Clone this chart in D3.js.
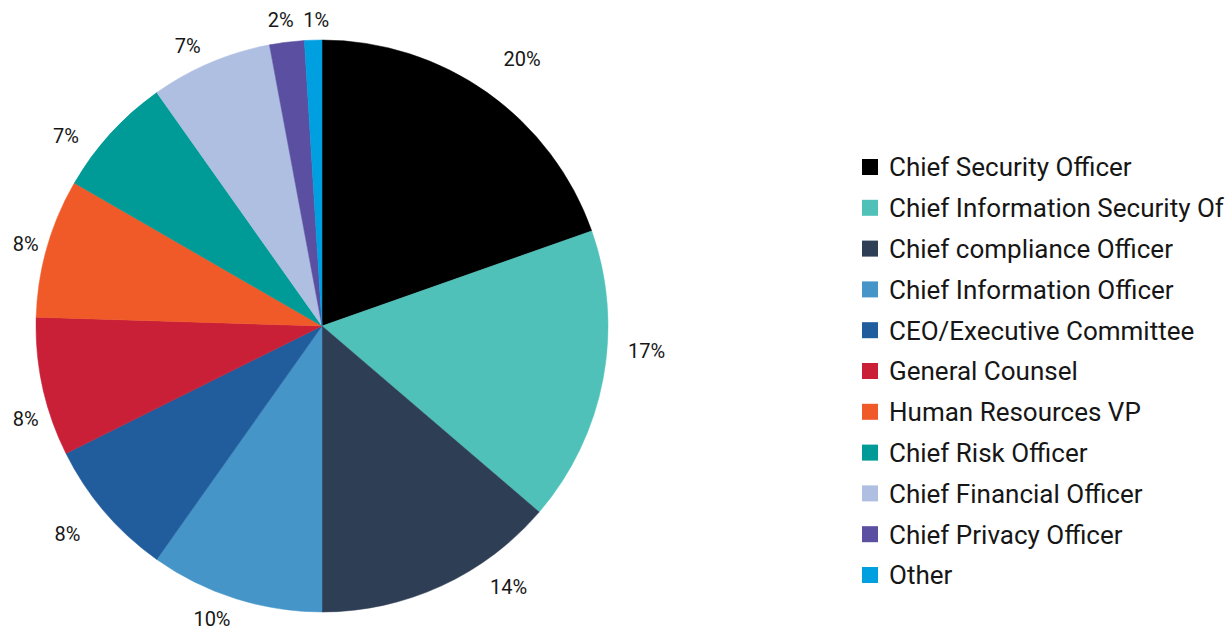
<!DOCTYPE html>
<html>
<head>
<meta charset="utf-8">
<script src="https://cdn.jsdelivr.net/npm/d3@7"></script>
<style>
  html, body { margin: 0; padding: 0; background: #fff; }
  svg { display: block; }
  text { font-family: Roboto, "Noto Sans", sans-serif; fill: #161616; }
</style>
</head>
<body>
<svg id="chart" width="1228" height="630"></svg>
<script>
// Who owns the function — share of respondents by role
const roles = [
  "Chief Security Officer",
  "Chief Information Security Officer",
  "Chief compliance Officer",
  "Chief Information Officer",
  "CEO/Executive Committee",
  "General Counsel",
  "Human Resources VP",
  "Chief Risk Officer",
  "Chief Financial Officer",
  "Chief Privacy Officer",
  "Other"
];
const shares = [20, 17, 14, 10, 8, 8, 8, 7, 7, 2, 1];
const colors = [
  "#000000", "#4fc1b9", "#2e3e55", "#4595c8", "#215d9c",
  "#c91f37", "#f05a28", "#009b96", "#aebfe2", "#5a4fa0", "#009fe0"
];

// label layout tweaks: angular shift (degrees) and extra radial distance (px)
const labelShiftDeg = [0.7, -6, -10, 2.3, 0.9, -5.3, -0.1, -5.3, -2.3, -0.5, 0.7];
const labelShiftR   = [24, 9, 11, 6, 20, 0, -3, 10, 4, 3, 0];

const data = roles.map((r, i) => ({
  role: r, value: shares[i], color: colors[i],
  da: labelShiftDeg[i], dr: labelShiftR[i]
}));

const svg = d3.select("#chart");
const W = +svg.attr("width");
const cx = 322, cy = 326, R = 286;

const pie = d3.pie().sort(null).value(d => d.value);
const arc = d3.arc().innerRadius(0).outerRadius(R);
const arcs = pie(data);

const g = svg.append("g").attr("transform", `translate(${cx},${cy})`);

g.selectAll("path.slice")
  .data(arcs)
  .join("path")
  .attr("class", "slice")
  .attr("d", arc)
  .attr("fill", d => d.data.color)
  .attr("stroke", d => d.data.color)
  .attr("stroke-width", 0.5);

// percentage labels outside the pie
const labels = g.selectAll("text.pct")
  .data(arcs)
  .join("text")
  .attr("class", "pct")
  .attr("font-size", 20)
  .attr("text-anchor", "middle")
  .attr("dy", "0.36em")
  .text(d => d.data.value + "%");

labels.each(function(d) {
  const el = d3.select(this);
  const w = this.getComputedTextLength();
  const hh = 8;
  const a = (d.startAngle + d.endAngle) / 2 + d.data.da * Math.PI / 180;
  const s = Math.sin(a), c = -Math.cos(a);
  const r0 = R + 12 + d.data.dr;
  el.attr("x", r0 * s + (w / 2) * s)
    .attr("y", r0 * c + hh * c);
});

// legend
const legendX = 862, textX = 27;
const legend = svg.append("g").attr("transform", `translate(${legendX},167)`);
const rowH = 40.8;
const item = legend.selectAll("g.item")
  .data(data)
  .join("g")
  .attr("class", "item")
  .attr("transform", (d, i) => `translate(0,${i * rowH})`);

item.append("rect")
  .attr("x", 0).attr("y", -8)
  .attr("width", 16).attr("height", 16)
  .attr("fill", d => d.color);

// entries that run past the right edge are cut back to whole characters
const maxW = W - legendX - textX - 4;
item.append("text")
  .attr("x", textX).attr("y", 0)
  .attr("dy", "0.36em")
  .attr("font-size", 26)
  .text(d => d.role)
  .each(function(d) {
    let t = d.role;
    while (this.getComputedTextLength() > maxW && t.length > 1) {
      t = t.slice(0, -1);
      this.textContent = t.trimEnd();
    }
  });
</script>
</body>
</html>
